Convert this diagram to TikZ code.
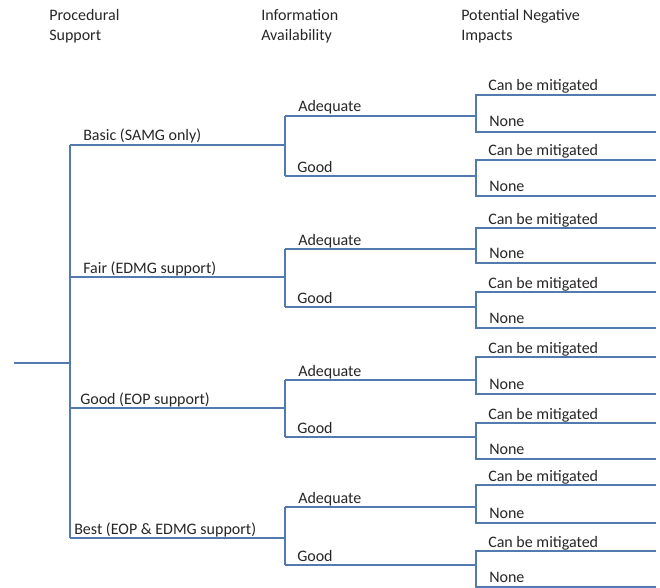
\documentclass[tikz,border=0pt]{standalone}
\usepackage{fontspec}
\setmainfont{Carlito}
\definecolor{treeblue}{RGB}{82,122,175}
\tikzset{
  branch/.style={treeblue, line width=1.2pt},
  lbl/.style={anchor=base west, inner sep=0pt, text=black!85},
}
\begin{document}
\begin{tikzpicture}[x=0.75pt,y=-0.75pt,font=\fontsize{12}{15}\selectfont]
\useasboundingbox (0,0) rectangle (660,588);
% column headings
\node[lbl] (proc) at (49,21) {Procedural};
\node[lbl] (procb) at (49,41) {Support};
\node[lbl] (info) at (261,21) {Information};
\node[lbl] (infob) at (261,41) {Availability};
\node[lbl] (impact) at (461,21) {Potential Negative};
\node[lbl] (impactb) at (461,41) {Impacts};
% root
\coordinate (start) at (14,363);
\coordinate (root) at (70,363);
\draw[branch] (start) -- (root);
% procedural support
\foreach \i/\y/\ya/\yg/\lx/\txt in {1/145/116/176/83/Basic (SAMG only),
    2/277/249/307/83/Fair (EDMG support),
    3/408/380/437/80/Good (EOP support),
    4/538/507/565/74/Best (EOP \& EDMG support)}{
  \coordinate (ps\i) at (70,\y);
  \coordinate (ia\i) at (285,\ya);
  \coordinate (ig\i) at (285,\yg);
  \draw[branch] (ps\i) -- (ps\i -| ia\i);
  \draw[branch] (ia\i) -- (ig\i);
  \node[lbl] (sup\i) at (\lx,\y-4) {\txt};
  \node[lbl] (infa\i) at (298,\ya-4) {Adequate};
  \node[lbl] (infg\i) at (297,\yg-4) {Good};
}
\draw[branch] (ps1) -- (ps4);
% potential negative impacts
\foreach \n/\y/\t/\b in {a1/116/95/132, g1/176/160/196,
    a2/249/228/263, g2/307/292/328,
    a3/380/357/394, g3/437/423/459,
    a4/507/485/523, g4/565/551/587}{
  \coordinate (mt\n) at (476,\t);
  \coordinate (mb\n) at (476,\b);
  \coordinate (me\n) at (656,\t);
  \coordinate (ne\n) at (656,\b);
  \draw[branch] (i\n) -- (mt\n |- i\n);
  \draw[branch] (me\n) -- (mt\n) -- (mb\n) -- (ne\n);
  \node[lbl] (mit\n) at (488,\t-4) {Can be mitigated};
  \node[lbl] (none\n) at (489,\b-5) {None};
}
\end{tikzpicture}
\end{document}
